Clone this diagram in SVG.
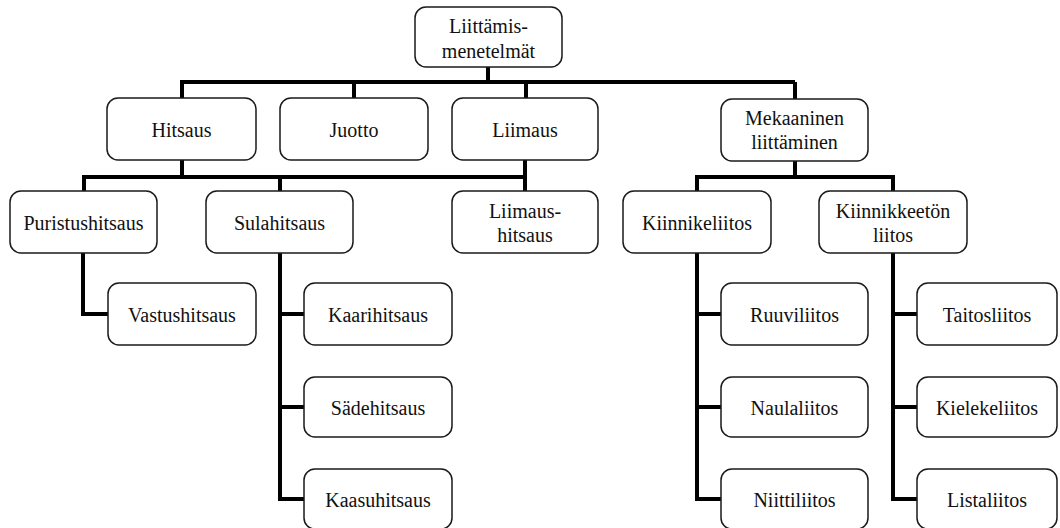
<svg xmlns="http://www.w3.org/2000/svg" width="1060" height="528" viewBox="0 0 1060 528">
<style>
.box{fill:#fff;stroke:#1a1a1a;stroke-width:1.5}
.t{font-family:'Liberation Serif','DejaVu Serif',serif;font-size:20px;fill:#111;text-anchor:middle}
.c{fill:none;stroke:#000;stroke-width:4;stroke-linejoin:miter;stroke-linecap:butt}
</style>
<rect width="1060" height="528" fill="#fff"/>
<g id="connectors">
<path class="c" d="M488 67V82M182 82H795M182 80V98M354 82V98M526 82V98M795 82V99"/>
<path class="c" d="M182 160V177M84 177H527M84 175V191M280 177V191M525 160V191"/>
<path class="c" d="M795 161V177M697 177H893M697 175V191M893 175V191"/>
<path class="c" d="M83 253V314H108"/>
<path class="c" d="M280 253V499H304M280 314H304M280 407H304"/>
<path class="c" d="M697 253V499H721M697 314H721M697 407H721"/>
<path class="c" d="M893 253V499H917M893 314H917M893 407H917"/>
</g>
<g font-family="Liberation Serif, DejaVu Serif, serif">
<g id="n-root"><rect class="box" x="415" y="7" width="147" height="60" rx="11"/><text class="t" x="488.5" y="33">Liittämis-</text><text class="t" x="488.5" y="58">menetelmät</text></g>
<g id="n-hitsaus"><rect class="box" x="107" y="98" width="149" height="62" rx="11"/><text class="t" x="181.5" y="137">Hitsaus</text></g>
<g id="n-juotto"><rect class="box" x="280" y="98" width="148" height="62" rx="11"/><text class="t" x="354" y="137">Juotto</text></g>
<g id="n-liimaus"><rect class="box" x="452" y="98" width="146" height="62" rx="11"/><text class="t" x="525" y="137">Liimaus</text></g>
<g id="n-mekaaninen"><rect class="box" x="721" y="99" width="147" height="62" rx="11"/><text class="t" x="794.5" y="125">Mekaaninen</text><text class="t" x="794.5" y="149">liittäminen</text></g>
<g id="n-puristus"><rect class="box" x="10" y="191" width="147" height="62" rx="11"/><text class="t" x="83.5" y="230">Puristushitsaus</text></g>
<g id="n-sula"><rect class="box" x="206" y="191" width="147" height="62" rx="11"/><text class="t" x="279.5" y="230">Sulahitsaus</text></g>
<g id="n-liimaushitsaus"><rect class="box" x="452" y="191" width="146" height="62" rx="11"/><text class="t" x="525" y="218">Liimaus-</text><text class="t" x="525" y="242">hitsaus</text></g>
<g id="n-kiinnike"><rect class="box" x="623" y="191" width="148" height="62" rx="11"/><text class="t" x="697" y="230">Kiinnikeliitos</text></g>
<g id="n-kiinnikkeeton"><rect class="box" x="819" y="191" width="148" height="62" rx="11"/><text class="t" x="893" y="218">Kiinnikkeetön</text><text class="t" x="893" y="242">liitos</text></g>
<g id="n-vastus"><rect class="box" x="108" y="283" width="148" height="62" rx="11"/><text class="t" x="182" y="322">Vastushitsaus</text></g>
<g id="n-kaari"><rect class="box" x="304" y="283" width="148" height="62" rx="11"/><text class="t" x="378" y="322">Kaarihitsaus</text></g>
<g id="n-sade"><rect class="box" x="304" y="377" width="148" height="60" rx="11"/><text class="t" x="378" y="415">Sädehitsaus</text></g>
<g id="n-kaasu"><rect class="box" x="304" y="469" width="148" height="60" rx="11"/><text class="t" x="378" y="507">Kaasuhitsaus</text></g>
<g id="n-ruuvi"><rect class="box" x="721" y="283" width="147" height="62" rx="11"/><text class="t" x="794.5" y="322">Ruuviliitos</text></g>
<g id="n-naula"><rect class="box" x="721" y="377" width="147" height="60" rx="11"/><text class="t" x="794.5" y="415">Naulaliitos</text></g>
<g id="n-niitti"><rect class="box" x="721" y="469" width="147" height="60" rx="11"/><text class="t" x="794.5" y="507">Niittiliitos</text></g>
<g id="n-taitos"><rect class="box" x="917" y="283" width="140" height="62" rx="11"/><text class="t" x="987" y="322">Taitosliitos</text></g>
<g id="n-kieleke"><rect class="box" x="917" y="377" width="140" height="60" rx="11"/><text class="t" x="987" y="415">Kielekeliitos</text></g>
<g id="n-lista"><rect class="box" x="917" y="469" width="140" height="60" rx="11"/><text class="t" x="987" y="507">Listaliitos</text></g>
</g>
</svg>
